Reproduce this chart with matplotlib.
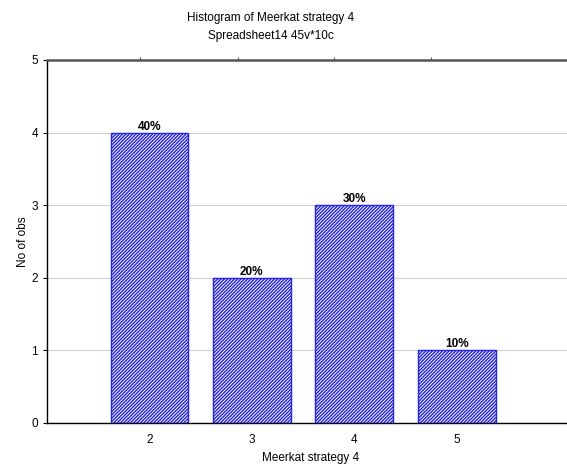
import matplotlib
matplotlib.use("Agg")
import matplotlib.pyplot as plt

plt.rcParams['font.family'] = ['Liberation Sans', 'DejaVu Sans']
plt.rcParams['hatch.linewidth'] = 1.0

# data
categories = [2, 3, 4, 5]
counts = [4, 2, 3, 1]
percent_labels = ['40%', '20%', '30%', '10%']

fig = plt.figure(figsize=(5.67, 4.68), dpi=100)
ax = fig.add_axes([0.083, 0.0962, 0.93, 0.7756])

ax.grid(axis='y', color='#d0d0d0', linewidth=0.8)
ax.set_axisbelow(True)

bars = ax.bar(categories, counts, width=0.76, color='white', edgecolor='#2020ff',
              linewidth=1.0, hatch='//////////', zorder=2)
for b in bars:
    if hasattr(b, 'set_hatch_color'):
        b.set_hatch_color('#4040ff')
for b, lab in zip(bars, percent_labels):
    ax.text(b.get_x() + b.get_width() / 2, b.get_height(), lab, ha='center', va='bottom',
            fontsize=8.5, fontweight='bold')

ax.set_xlim(1.0, 6.15)
ax.set_ylim(0, 5)
ax.set_xticks(categories)
ax.set_yticks(range(6))
ax.tick_params(axis='x', direction='in', length=3, labelsize=8.5, pad=8)
ax.tick_params(axis='y', direction='out', length=3, labelsize=8.5)

for s in ['left', 'bottom']:
    ax.spines[s].set_color('black')
    ax.spines[s].set_linewidth(1.0)
ax.spines['top'].set_color('#555555')
ax.spines['top'].set_linewidth(1.8)
ax.spines['right'].set_visible(False)

top = ax.secondary_xaxis('top')
top.set_xticks([1.91, 2.86, 3.80, 4.75])
top.set_xticklabels([])
top.tick_params(direction='out', length=2, color='#555555')
top.spines['top'].set_visible(False)

ax.set_xlabel('Meerkat strategy 4', fontsize=8.5, labelpad=4)
ax.set_ylabel('No of obs', fontsize=8.5)
ax.yaxis.set_label_coords(-0.034, 0.5)

fig.text(0.478, 0.962, 'Histogram of Meerkat strategy 4', ha='center', va='center', fontsize=8.5)
fig.text(0.478, 0.924, 'Spreadsheet14 45v*10c', ha='center', va='center', fontsize=8.5)

fig.savefig('out.png', dpi=100)
